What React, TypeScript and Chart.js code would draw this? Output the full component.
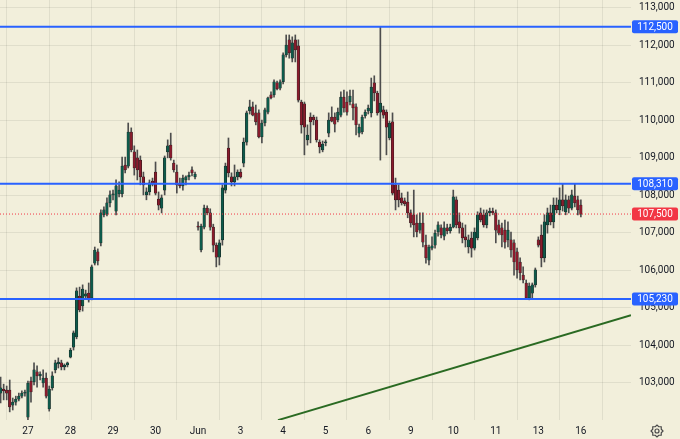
import { useEffect, useRef } from 'react';
import { Chart, registerables } from 'chart.js';
Chart.register(...registerables);

const dayLabels = ['27', '28', '29', '30', 'Jun', '3', '4', '5', '6', '9', '10', '11', '13', '16'];
const dayStarts = [9, 23, 37, 51, 65, 79, 93, 107, 121, 135, 149, 163, 177, 191];

const opens = [
  102720, 102830, 102800, 102800, 102400, 102480, 102560, 102640, 102720,
  102080, 103040, 103020, 103290, 103180, 102990, 103120, 102300, 102860, 103340, 103500, 103530, 103420, 103470,
  103680, 103950, 104220, 105310, 105050, 105310, 105390, 105260, 106190, 106490, 106730, 107480, 107500, 107800,
  108010, 107580, 108040, 108040, 108810, 108780, 109690, 109160, 109000, 108940, 108490, 108010, 108090, 108380,
  108620, 107900, 107660, 108140, 109160, 109340, 108860, 108620, 108300, 108250, 108410, 108490, 108680, 108490,
  107180, 106540, 107150, 107660, 107530, 107150, 106670, 106350, 106810, 108140, 109260, 108490, 108360, 108490,
  108620, 108860, 109420, 110250, 110360, 110200, 110200, 109560, 109930, 110220, 110680, 110680, 111000, 110860,
  111030, 111750, 112150, 111660, 112150, 111990, 110490, 110440, 109480, 110090, 110090, 110010, 109420, 109210,
  109400, 109660, 110090, 110090, 110010, 110140, 110620, 110490, 110490, 110440, 110360, 109660, 109690, 110120,
  110250, 110200, 111000, 110730, 110220, 110280, 110220, 109530, 109960, 108280, 108140, 107930, 107850, 107820,
  107530, 107480, 107260, 107070, 107260, 106670, 106270, 106590, 106670, 107020, 107130, 106910, 107130, 107050,
  107150, 107880, 107290, 107130, 106890, 106620, 106860, 106590, 106860, 107530, 107480, 107210, 107530, 107580,
  107530, 107210, 107130, 107070, 106810, 106810, 106730, 106490, 106220, 105870, 105660, 105260, 105390, 105610,
  106810, 106940, 106330, 107210, 107530, 107290, 107740, 107610, 107880, 107560, 107880, 107660, 107980, 107880,
  107740,
];
const highs = [
  103150, 102960, 102910, 103070, 102590, 102640, 102720, 102780, 102800,
  103040, 103150, 103530, 103450, 103290, 103340, 103260, 102910, 103290, 103600, 103660, 103600, 103500, 103550,
  103920, 104380, 105530, 105550, 105610, 105470, 105660, 106140, 106620, 106570, 107610, 107690, 107930, 108120,
  108140, 108410, 108360, 109020, 109020, 109930, 109800, 109320, 109210, 109050, 108620, 108200, 108410, 108460,
  108890, 108090, 108010, 109050, 109480, 109660, 108940, 108810, 108460, 108540, 108520, 108620, 108760, 108620,
  107290, 107230, 107740, 107720, 107640, 107230, 106730, 106810, 108280, 108860, 109530, 108600, 108810, 108680,
  108700, 109530, 110250, 110540, 110490, 110410, 110280, 110010, 110330, 110620, 110760, 111080, 111050, 111080,
  111800, 112280, 112280, 112230, 112280, 112150, 110540, 110490, 109880, 110200, 110140, 110090, 109480, 109450,
  109480, 110200, 110360, 110200, 110330, 110760, 110810, 110760, 110810, 110810, 110440, 109900, 110140, 110280,
  110410, 111130, 111190, 110780, 112500, 110380, 110280, 109980, 110200, 108460, 108280, 108060, 107930, 108090,
  107610, 108140, 107480, 107530, 107530, 106940, 106670, 106890, 107070, 107290, 107210, 107290, 107230, 107230,
  108140, 107960, 107530, 107260, 107210, 106940, 107020, 107130, 107560, 107660, 107610, 107610, 107660, 107660,
  107610, 107340, 107260, 107340, 107290, 107020, 106810, 106590, 106330, 106090, 105740, 105660, 105660, 106060,
  106890, 107210, 107480, 107660, 107740, 107930, 107930, 108200, 108300, 108010, 107980, 108140, 108300, 107980,
  107880,
];
const lows = [
  102460, 102540, 102540, 102220, 102270, 102400, 102510, 102590, 102640,
  102000, 102480, 102940, 102880, 103070, 102880, 102590, 102240, 102800, 103260, 103390, 103340, 103340, 103420,
  103660, 103870, 104170, 104890, 104910, 105230, 105150, 105210, 106140, 106140, 106650, 107420, 107450, 107690,
  107880, 107480, 107960, 107960, 108600, 108730, 109160, 108540, 108410, 108280, 108010, 107880, 108010, 108250,
  108010, 107610, 107530, 108010, 109000, 108940, 108620, 108060, 108200, 108140, 108280, 108410, 108520, 108440,
  107070, 106490, 107100, 107480, 107070, 106490, 106090, 106140, 106670, 108060, 108490, 108250, 108250, 108410,
  108460, 108760, 109340, 110170, 110120, 109880, 109530, 109400, 109850, 110170, 110570, 110620, 110810, 110810,
  110970, 111690, 111660, 111560, 111560, 110490, 109660, 109080, 109340, 109400, 109880, 109420, 109130, 109160,
  109320, 109560, 109960, 109690, 109960, 110090, 110220, 110140, 110410, 110010, 109610, 109560, 109640, 110060,
  110170, 110090, 110520, 110140, 108940, 110060, 109080, 109480, 108010, 107610, 107690, 107740, 107720, 107400,
  107150, 106890, 106890, 106990, 106620, 106190, 106140, 106540, 106590, 106910, 106860, 106810, 106970, 106990,
  107130, 107130, 106990, 106730, 106620, 106460, 106350, 106540, 106810, 107290, 107150, 107130, 107450, 107480,
  106730, 106940, 106620, 106590, 106620, 106350, 105870, 105790, 105740, 105660, 105230, 105210, 105260, 105550,
  106620, 106090, 106220, 106990, 107210, 107130, 107530, 107480, 107580, 107480, 107530, 107610, 107690, 107480,
  107420,
];
const closes = [
  102860, 102780, 102720, 102350, 102480, 102560, 102640, 102720, 102750,
  102990, 102750, 103340, 103180, 103230, 103120, 102640, 102830, 103180, 103530, 103550, 103420, 103470, 103530,
  103870, 104330, 105450, 104940, 105500, 105370, 105210, 106090, 106540, 106250, 107530, 107610, 107800, 108010,
  108040, 108250, 108140, 108780, 108680, 109690, 109210, 108730, 108680, 108490, 108280, 108090, 108330, 108300,
  108060, 107740, 107930, 109000, 109320, 109000, 108680, 108280, 108250, 108460, 108490, 108540, 108600, 108570,
  107150, 107180, 107660, 107530, 107150, 106670, 106350, 106730, 108200, 108780, 108600, 108360, 108490, 108620,
  108490, 109420, 110200, 110360, 110140, 109960, 109560, 109930, 110280, 110600, 110600, 111030, 110840, 111030,
  111750, 112010, 111800, 112070, 111880, 110540, 109880, 109820, 109610, 109960, 110010, 109480, 109290, 109370,
  109420, 110010, 109980, 109900, 110220, 110620, 110330, 110220, 110650, 110330, 109880, 109820, 110090, 110220,
  110330, 110890, 110730, 110200, 110460, 110140, 109820, 109930, 108060, 107880, 107880, 107800, 107770, 107530,
  107260, 107210, 107020, 107260, 106750, 106330, 106620, 106650, 106990, 107210, 106940, 107130, 107050, 107150,
  107960, 107210, 107130, 106860, 106810, 106810, 106590, 107020, 107480, 107340, 107210, 107530, 107580, 107530,
  107070, 106990, 106940, 106750, 107070, 106540, 106220, 106010, 105930, 105740, 105260, 105580, 105610, 106010,
  106670, 106330, 107290, 107530, 107290, 107740, 107610, 107880, 107720, 107880, 107660, 108010, 107800, 107610,
  107500,
];

const levelLines = [112500, 108310, 105230];
const lastPrice = 107500;
const trendLine = [
  { x: 91.3, y: 102000 },
  { x: 207.5, y: 104800 },
];
const yTicks = [103000, 104000, 105000, 106000, 107000, 108000, 109000, 110000, 111000, 112000, 113000];

const X_MIN = -0.2;
const X_MAX = 207.5;
const Y_MIN = 102003;
const Y_MAX = 113213;

const BG = '#F2EFDB';
const BLUE = '#2962FF';
const RED = '#F23645';
const UP = '#0E5B4B';
const DOWN = '#8A1B2C';
const FONT = 'Roboto, "Liberation Sans", sans-serif';

const fmt = (v: number) => v.toLocaleString('en-US');

export default function App() {
  const ref = useRef<HTMLCanvasElement | null>(null);

  useEffect(() => {
    document.body.style.margin = '0';
    const canvas = ref.current;
    if (!canvas) return;
    const idx = opens.map((_, i) => i);
    const wickData = idx.map((i) => ({
      x: i,
      y: [Math.min(lows[i], opens[i], closes[i]), Math.max(highs[i], opens[i], closes[i])],
    }));
    const bodyData = idx.map((i) => ({
      x: i,
      y: [Math.min(opens[i], closes[i]), Math.max(opens[i], closes[i])],
    }));
    const bodyColors = idx.map((i) => (closes[i] >= opens[i] ? UP : DOWN));

    const bgPlugin = {
      id: 'bg',
      beforeDraw(chart: any) {
        const { ctx, width, height } = chart;
        ctx.save();
        ctx.fillStyle = BG;
        ctx.fillRect(0, 0, width, height);
        ctx.restore();
      },
    };

    const labelPlugin = {
      id: 'priceLabels',
      afterDraw(chart: any) {
        const { ctx, chartArea } = chart;
        const ys = chart.scales.y;
        const drawBox = (value: number, color: string) => {
          const y = ys.getPixelForValue(value);
          const x = chartArea.right + 1;
          const w = 46;
          const h = 13;
          ctx.save();
          ctx.fillStyle = color;
          ctx.beginPath();
          ctx.roundRect(x, y - h / 2, w, h, 2);
          ctx.fill();
          ctx.fillStyle = '#ffffff';
          ctx.font = `10px ${FONT}`;
          ctx.textAlign = 'center';
          ctx.textBaseline = 'middle';
          ctx.fillText(fmt(value), x + w / 2, y + 0.5);
          ctx.restore();
        };
        levelLines.forEach((v) => drawBox(v, BLUE));
        drawBox(lastPrice, RED);

        // settings gear icon
        const cx = 657;
        const cy = 431;
        ctx.save();
        ctx.strokeStyle = '#4a4a4a';
        ctx.lineWidth = 1.2;
        ctx.beginPath();
        for (let k = 0; k < 16; k++) {
          const a = (k / 16) * Math.PI * 2;
          const r = k % 2 === 0 ? 6 : 4.6;
          const px = cx + Math.cos(a) * r;
          const py = cy + Math.sin(a) * r;
          if (k === 0) ctx.moveTo(px, py);
          else ctx.lineTo(px, py);
        }
        ctx.closePath();
        ctx.stroke();
        ctx.beginPath();
        ctx.arc(cx, cy, 2, 0, Math.PI * 2);
        ctx.stroke();
        ctx.restore();
      },
    };

    const chart = new Chart(canvas, {
      type: 'bar',
      data: {
        datasets: [
          ...levelLines.map((v) => ({
            type: 'line',
            data: [
              { x: X_MIN, y: v },
              { x: X_MAX, y: v },
            ],
            borderColor: BLUE,
            borderWidth: 2,
            pointRadius: 0,
            order: 0,
          })),
          {
            type: 'line',
            data: [
              { x: X_MIN, y: lastPrice },
              { x: X_MAX, y: lastPrice },
            ],
            borderColor: RED,
            borderWidth: 1,
            borderDash: [1, 2],
            pointRadius: 0,
            order: 1,
          },
          {
            type: 'line',
            data: trendLine,
            borderColor: '#2A6A22',
            borderWidth: 2,
            pointRadius: 0,
            order: 1,
          },
          {
            type: 'bar',
            data: bodyData,
            backgroundColor: bodyColors,
            borderColor: '#1a1a1a',
            borderWidth: 0.5,
            borderSkipped: false,
            barThickness: 2.6,
            minBarLength: 1,
            grouped: false,
            order: 2,
          },
          {
            type: 'bar',
            data: wickData,
            backgroundColor: '#4d4d4d',
            barThickness: 1,
            grouped: false,
            order: 3,
          },
        ] as any,
      },
      options: {
        animation: false,
        responsive: false,
        maintainAspectRatio: false,
        layout: { padding: 0 },
        plugins: { legend: { display: false }, tooltip: { enabled: false } },
        scales: {
          x: {
            type: 'linear',
            min: X_MIN,
            max: X_MAX,
            offset: false,
            afterBuildTicks: (scale: any) => {
              scale.ticks = dayStarts.map((v) => ({ value: v }));
            },
            afterFit: (scale: any) => {
              scale.height = 19;
              scale.paddingLeft = 0;
              scale.paddingRight = 0;
            },
            ticks: {
              autoSkip: false,
              maxRotation: 0,
              padding: 5,
              color: '#131722',
              font: { family: FONT, size: 10 },
              callback: (v: any) => {
                const k = dayStarts.indexOf(Number(v));
                return k >= 0 ? dayLabels[k] : '';
              },
            },
            grid: { color: 'rgba(0,0,0,0.07)', drawTicks: false },
            border: { display: false },
          },
          y: {
            type: 'linear',
            position: 'right',
            min: Y_MIN,
            max: Y_MAX,
            afterBuildTicks: (scale: any) => {
              scale.ticks = yTicks.map((v) => ({ value: v }));
            },
            afterFit: (scale: any) => {
              scale.width = 49;
              scale.paddingTop = 0;
              scale.paddingBottom = 0;
            },
            ticks: {
              padding: 8,
              color: '#131722',
              font: { family: FONT, size: 10 },
              callback: (v: any) => fmt(Number(v)),
            },
            grid: { color: 'rgba(0,0,0,0.07)', drawTicks: false },
            border: { display: false },
          },
        },
      } as any,
      plugins: [bgPlugin, labelPlugin],
    });
    return () => chart.destroy();
  }, []);

  return (
    <div style={{ width: 680, height: 439, background: BG }}>
      <canvas ref={ref} width={680} height={439} />
    </div>
  );
}
